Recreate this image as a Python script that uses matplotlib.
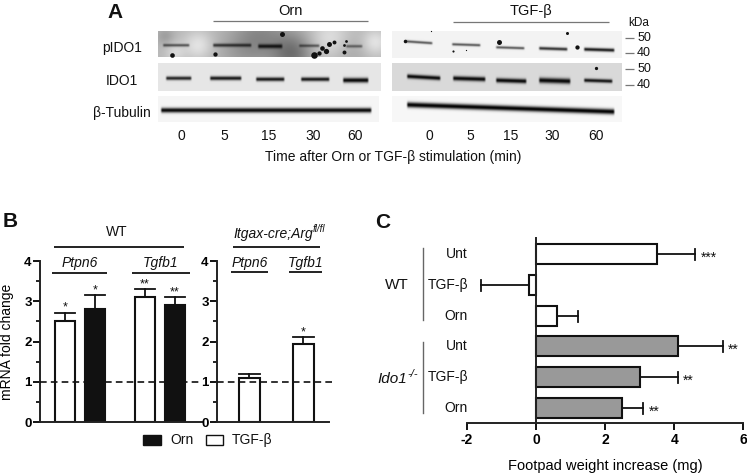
import numpy as np
import matplotlib
matplotlib.use('Agg')
import matplotlib.pyplot as plt
from matplotlib.patches import Rectangle

plt.rcParams['font.family'] = ['Liberation Sans', 'DejaVu Sans']
plt.rcParams['axes.unicode_minus'] = False

W, H = 747, 473

# panel A
time_labels = ['0', '5', '15', '30', '60']
row_labels = ['pIDO1', 'IDO1', 'β-Tubulin']

# panel B
b_genes = ['Ptpn6', 'Tgfb1']
b_wt_values = [2.5, 2.8, 3.1, 2.9]
b_wt_tops = [2.72, 3.15, 3.3, 3.1]
b_wt_stars = ['*', '*', '**', '**']
b_wt_colors = ['white', '#111111', 'white', '#111111']
b_ko_values = [1.1, 1.95]
b_ko_tops = [1.2, 2.1]
b_ko_stars = ['', '*']

# panel C
c_labels = ['Unt', 'TGF-β', 'Orn', 'Unt', 'TGF-β', 'Orn']
c_values = [3.5, -0.2, 0.6, 4.1, 3.0, 2.5]
c_ends = [4.6, -1.6, 1.2, 5.4, 4.1, 3.1]
c_stars = ['***', '', '', '**', '**', '**']
c_colors = ['white', 'white', 'white', '#999999', '#999999', '#999999']

# blots: (x0, x1, y0, y1, darkness, thickness)
bands_p_left = [(162, 190, 45, 45, .60, 1.0), (212, 252, 45, 45, .72, 1.2), (257, 283, 46, 46, .85, 1.5),
                (298, 320, 45.5, 45.5, .55, 1.0), (345, 363, 46, 46, .50, 1.0)]
bands_i_left = [(165, 192, 78, 78, .85, 1.3), (209, 242, 78, 78, .90, 1.4), (255, 285, 79, 79, .90, 1.4),
                (300, 330, 79, 79, .90, 1.4), (342, 369, 80, 80, .97, 1.7)]
bands_t_left = [(160, 372, 110, 110, .97, 1.7)]
bands_p_right = [(404, 433, 41, 43, .65, .9), (451, 481, 44, 45, .65, .9), (495, 525, 47, 48, .65, .9),
                 (538, 568, 48, 49, .80, 1.1), (583, 615, 49, 50, .90, 1.2)]
bands_i_right = [(406, 441, 76, 78, .97, 1.5), (452, 486, 78, 79, .97, 1.6), (495, 527, 80, 81, .97, 1.6),
                 (538, 571, 80, 81, .97, 1.9), (583, 613, 80, 81, .92, 1.3)]
bands_t_right = [(406, 615, 104.5, 111.5, 1.0, 1.9)]
# mottled background of the noisy blot: (x, y, size, change)
patches_p_left = [(175, 52, 7, .12), (198, 45, 10, .17), (260, 36, 18, -.17), (292, 53, 14, -.27),
                  (240, 52, 16, -.08), (330, 38, 14, .15), (375, 42, 9, .17), (350, 52, 12, -.06),
                  (165, 36, 6, -.10)]
dots_left = [(172, 55, 14), (215, 54, 12), (282, 34, 16), (314, 55, 28), (319, 53, 12), (322, 48, 14),
             (326, 51, 18), (329, 44, 16), (334, 42, 10), (344, 52, 10), (344, 45, 5), (346, 41, 5)]
dots_right = [(405, 41, 8), (499, 42, 16), (567, 33, 6), (577, 47, 12), (453, 51, 3), (466, 50, 1),
              (596, 68, 7), (431, 31, 1)]


def px_axes(fig, x0, x1, y0, y1):
    return fig.add_axes([x0 / W, 1 - y1 / H, (x1 - x0) / W, (y1 - y0) / H])


def draw_blot(ax, x0, x1, y0, y1, bg, bands, patches=()):
    xs = np.arange(x0, x1, 0.5)
    ys = np.arange(y0, y1, 0.5)
    xx, yy = np.meshgrid(xs, ys)
    img = np.full(xx.shape, float(bg))
    for px, py, size, change in patches:
        img += change * np.exp(-((xx - px) ** 2 + (yy - py) ** 2) / (2 * size ** 2))
    for bx0, bx1, by0, by1, dark, thick in bands:
        frac = np.clip((xx - bx0) / (bx1 - bx0), 0, 1)
        centre = by0 + (by1 - by0) * frac
        edge = np.clip((xx - bx0) / 2, 0, 1) * np.clip((bx1 - xx) / 2, 0, 1)
        img *= 1 - dark * edge * np.exp(-(yy - centre) ** 2 / (2 * thick ** 2))
    ax.imshow(np.clip(img, 0, 1), cmap='gray', vmin=0, vmax=1, extent=(x0, x1, y1, y0),
              aspect='auto', interpolation='bilinear', zorder=1)


fig = plt.figure(figsize=(W / 100, H / 100), dpi=100)
page = fig.add_axes([0, 0, 1, 1])

draw_blot(page, 158, 381, 31, 57, .72, bands_p_left, patches_p_left)
draw_blot(page, 158, 381, 63, 91, .90, bands_i_left)
draw_blot(page, 158, 379, 96, 122, .96, bands_t_left)
draw_blot(page, 392, 622, 31, 58, .95, bands_p_right)
draw_blot(page, 392, 622, 63, 91, .85, bands_i_right)
draw_blot(page, 392, 622, 96, 122, .97, bands_t_right)
for x, y, s in dots_left + dots_right:
    page.scatter(x, y, s=s * 0.8, color='#111111', linewidths=0, zorder=2)

page.set_xlim(0, W)
page.set_ylim(H, 0)
page.axis('off')


def label(x, y, s, size=10, **kw):
    kw.setdefault('ha', 'center')
    kw.setdefault('va', 'center')
    page.text(x, y, s, fontsize=size, color='#111111', **kw)


def rule(x0, x1, y, color='#222222', lw=1.4):
    page.plot([x0, x1], [y, y], color=color, lw=lw, solid_capstyle='butt', zorder=3)


# panel A text
label(115, 12, 'A', 15, fontweight='bold')
label(290, 11, 'Orn', 10.5)
rule(213, 368, 21, '#777777', .9)
label(531, 11, 'TGF-β', 10.5)
rule(453, 609, 22, '#777777', .9)
for name, y in zip(row_labels, [48, 81, 113]):
    label(122, y, name, 10)
for t, x in zip(time_labels, [181, 224, 269, 313, 355]):
    label(x, 136, t, 10)
for t, x in zip(time_labels, [429, 470, 511, 552, 596]):
    label(x, 136, t, 10)
label(393, 157, 'Time after Orn or TGF-β stimulation (min)', 10)
label(639, 23, 'kDa', 8.5)
for t, y in zip(['50', '40', '50', '40'], [38, 53, 69, 85]):
    label(644, y, t, 9)
    rule(625, 634, y, '#777777', .9)

# panel B
label(10, 221, 'B', 15, fontweight='bold')
ax_wt = px_axes(fig, 40, 202, 261, 422)
ax_ko = px_axes(fig, 217, 329, 261, 422)
wt_pos = [25, 55, 105, 135]
ko_pos = [32, 86]


def style_b(ax, xmax):
    ax.patch.set_alpha(0)
    ax.set_xlim(0, xmax)
    ax.set_ylim(0, 4)
    ax.set_yticks([0, 1, 2, 3, 4])
    ax.set_yticks([.5, 1.5, 2.5, 3.5], minor=True)
    ax.set_xticks([])
    for side in ['top', 'right']:
        ax.spines[side].set_visible(False)
    for side in ['left', 'bottom']:
        ax.spines[side].set_linewidth(1.4)
        ax.spines[side].set_color('#222222')
    ax.tick_params(axis='y', which='major', length=5, width=1.3, pad=1, labelsize=9.5)
    ax.tick_params(axis='y', which='minor', length=3, width=1.2)
    for t in ax.get_yticklabels():
        t.set_fontweight('bold')


def bars_b(ax, pos, values, tops, stars, colors, width):
    for x, v, top, star, c in zip(pos, values, tops, stars, colors):
        ax.bar(x, v, width, color=c, edgecolor='#111111', linewidth=1.5, zorder=2)
        ax.plot([x, x], [v, top], color='#111111', lw=1.3, zorder=1)
        ax.plot([x - width / 2, x + width / 2], [top, top], color='#111111', lw=1.3, zorder=1)
        if star:
            ax.annotate(star, (x, top), xytext=(0, -1), textcoords='offset points',
                        ha='center', va='bottom', fontsize=9, color='#111111')


style_b(ax_wt, 162)
bars_b(ax_wt, wt_pos, b_wt_values, b_wt_tops, b_wt_stars, b_wt_colors, 20)
ax_wt.plot([0, 159], [1, 1], color='#111111', lw=1.2, dashes=(4, 2.5), zorder=3)
ax_wt.set_ylabel('mRNA fold change', fontsize=10, labelpad=7)

style_b(ax_ko, 112)
bars_b(ax_ko, ko_pos, b_ko_values, b_ko_tops, b_ko_stars, ['white', 'white'], 21)
ax_ko.plot([0, 115], [1, 1], color='#111111', lw=1.2, dashes=(4, 2.5), zorder=3, clip_on=False)

label(117, 232, 'WT', 10)
rule(54, 184, 247)
label(313, 234, 'Itgax-cre;Arg', 10, ha='right', style='italic')
label(313, 229, 'fl/fl', 7, ha='left', style='italic')
rule(233, 320, 247)
for name, x0, x1, y in [(b_genes[0], 52, 107, 273), (b_genes[1], 132, 190, 273),
                        (b_genes[0], 231, 268, 272), (b_genes[1], 289, 322, 272)]:
    label((x0 + x1) / 2, 263, name, 10, style='italic')
    rule(x0, x1, y)

page.add_patch(Rectangle((143, 435), 18, 10, facecolor='#111111', edgecolor='#111111', lw=1))
label(170, 440, 'Orn', 10, ha='left')
page.add_patch(Rectangle((206, 435), 17, 10, facecolor='white', edgecolor='#111111', lw=1))
label(232, 440, 'TGF-β', 10, ha='left')

# panel C
label(383, 222, 'C', 15, fontweight='bold')
ax_c = px_axes(fig, 467, 743.3, 238, 423)
ax_c.patch.set_alpha(0)
c_pos = [16, 47, 78, 108, 139, 170]
for y, v, end, star, c in zip(c_pos, c_values, c_ends, c_stars, c_colors):
    ax_c.plot([v, end], [y, y], color='#111111', lw=1.3, zorder=1)
    ax_c.plot([end, end], [y - 5.5, y + 5.5], color='#111111', lw=1.3, zorder=1)
    ax_c.barh(y, v, height=20, color=c, edgecolor='#111111', linewidth=1.5, zorder=2)
    if star:
        ax_c.annotate(star, (end, y), xytext=(4, -3), textcoords='offset points',
                      ha='left', va='center', fontsize=10, color='#111111')
ax_c.set_xlim(-2, 6)
ax_c.set_ylim(185, 0)
ax_c.set_yticks([])
ax_c.set_xticks([-2, 0, 2, 4, 6])
ax_c.spines['top'].set_visible(False)
ax_c.spines['right'].set_visible(False)
ax_c.spines['left'].set_position(('data', 0))
ax_c.spines['left'].set_zorder(5)
for side in ['left', 'bottom']:
    ax_c.spines[side].set_linewidth(1.4)
    ax_c.spines[side].set_color('#222222')
ax_c.tick_params(axis='x', length=5, width=1.3, pad=2, labelsize=10)
for t in ax_c.get_xticklabels():
    t.set_fontweight('bold')
ax_c.set_xlabel('Footpad weight increase (mg)', fontsize=10.5, labelpad=9)

for name, y in zip(c_labels, [254, 285, 316, 346, 377, 408]):
    label(468, y, name, 10, ha='right')
page.plot([423, 423], [248, 320], color='#666666', lw=1)
page.plot([423, 423], [342, 413], color='#666666', lw=1)
label(397, 285, 'WT', 11)
label(407, 379, 'Ido1', 11, ha='right', style='italic')
label(407, 374, '-/-', 8, ha='left', style='italic')

fig.savefig('out.png', dpi=100)
